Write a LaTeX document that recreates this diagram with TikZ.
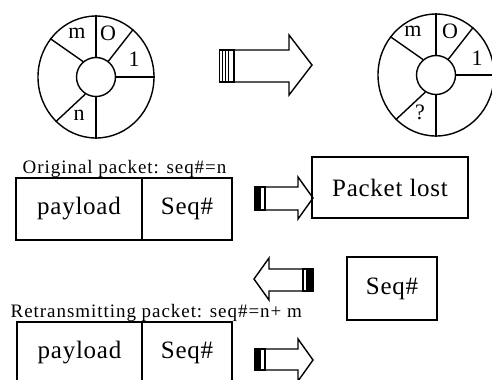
\documentclass[tikz,border=0pt]{standalone}
\usepackage{fontspec}
\setmainfont{Liberation Serif}
\newfontfamily\bigfont[LetterSpace=3]{Liberation Serif}
\newfontfamily\smallfont[LetterSpace=5]{Liberation Serif}
\usetikzlibrary{shapes.geometric}
\begin{document}
\begin{tikzpicture}[x=1bp,y=-1bp, line width=1.4bp,
  wheel/.style={ellipse,draw,minimum width=116bp,minimum height=122bp,inner sep=0pt},
  hub/.style={circle,draw,fill=white,minimum size=39bp,inner sep=0pt},
  cell/.style={draw,rectangle,inner sep=0pt,font=\bigfont\fontsize{25bp}{29bp}\selectfont},
  lbl/.style={inner sep=0pt,font=\fontsize{22bp}{26bp}\selectfont},
  captext/.style={inner sep=0pt,anchor=base west,font=\smallfont\fontsize{19bp}{22bp}\selectfont},
  blk/.style={draw,fill=white,line join=miter},
  bar/.style={line width=1.6bp}]
\useasboundingbox (0,0) rectangle (492,379);

% wheel 1
\node[wheel] (w1) at (96,77) {};
\node[hub] (h1) at (96,77) {};
\draw (h1.90) -- (w1.90);
\draw (h1.52) -- (w1.52);
\draw (h1.0) -- (w1.0);
\draw (h1.270) -- (w1.270);
\draw (h1.238) -- (w1.228);
\draw (h1.130) -- (w1.140);
\node[lbl] (m1) at (77,33) {m};
\node[lbl] (z1) at (108,33) {O};
\node[lbl] (o1) at (134,59) {1};
\node[lbl] (n1) at (79,115) {n};

% wheel 2
\node[wheel] (w2) at (436,75) {};
\node[hub] (h2) at (436,75) {};
\draw (h2.90) -- (w2.90);
\draw (h2.52) -- (w2.52);
\draw (h2.0) -- (w2.0);
\draw (h2.270) -- (w2.270);
\draw (h2.238) -- (w2.228);
\draw (h2.130) -- (w2.140);
\node[lbl] (m2) at (413,31) {m};
\node[lbl] (z2) at (450,31) {O};
\node[lbl] (o2) at (477,58) {1};
\node[lbl] (q2) at (420,112) {?};

% big arrow
\draw[blk] (234,50) -- (289,50) -- (289,35) -- (312,65) -- (289,95) -- (289,82) -- (234,82) -- cycle;
\draw (219.5,50) rectangle (234,82);
\foreach \x in {222.5,225.5,228.5} \draw[bar] (\x,50) -- (\x,82);

% original packet
\node[captext] (cap1) at (22,173) {Original packet: seq\#=n};
\node[cell,minimum width=126bp,minimum height=62bp] (p1) at (79,209) {payload};
\node[cell,minimum width=90bp,minimum height=62bp] (s1) at (187,209) {Seq\#};

% arrow to packet lost
\draw[blk] (265,187) -- (298,187) -- (298,177) -- (313,198) -- (298,219) -- (298,210) -- (265,210) -- cycle;
\draw (255,187) rectangle (265,210);
\fill (255,187) rectangle (261,210);
\node[cell,minimum width=156bp,minimum height=61bp] (lost) at (390,187.5) {Packet lost};

% left arrow and Seq# box
\draw[blk] (303,269) -- (269,269) -- (269,258) -- (254,279) -- (269,300) -- (269,291) -- (303,291) -- cycle;
\draw (303,269) rectangle (313,291);
\fill (306,269) rectangle (313,291);
\node[cell,minimum width=90bp,minimum height=63bp] (seq) at (392,288.5) {Seq\#};

% retransmitting packet
\node[captext] (cap2) at (10,317) {Retransmitting packet: seq\#=n+ m};
\node[cell,minimum width=125bp,minimum height=62bp] (p2) at (79.5,353) {payload};
\node[cell,minimum width=90bp,minimum height=62bp] (s2) at (187,353) {Seq\#};

% bottom arrow
\draw[blk] (265,349) -- (298,349) -- (298,339) -- (313,360) -- (298,381) -- (298,370) -- (265,370) -- cycle;
\draw (255,349) rectangle (265,370);
\fill (255,349) rectangle (261,370);
\end{tikzpicture}
\end{document}
